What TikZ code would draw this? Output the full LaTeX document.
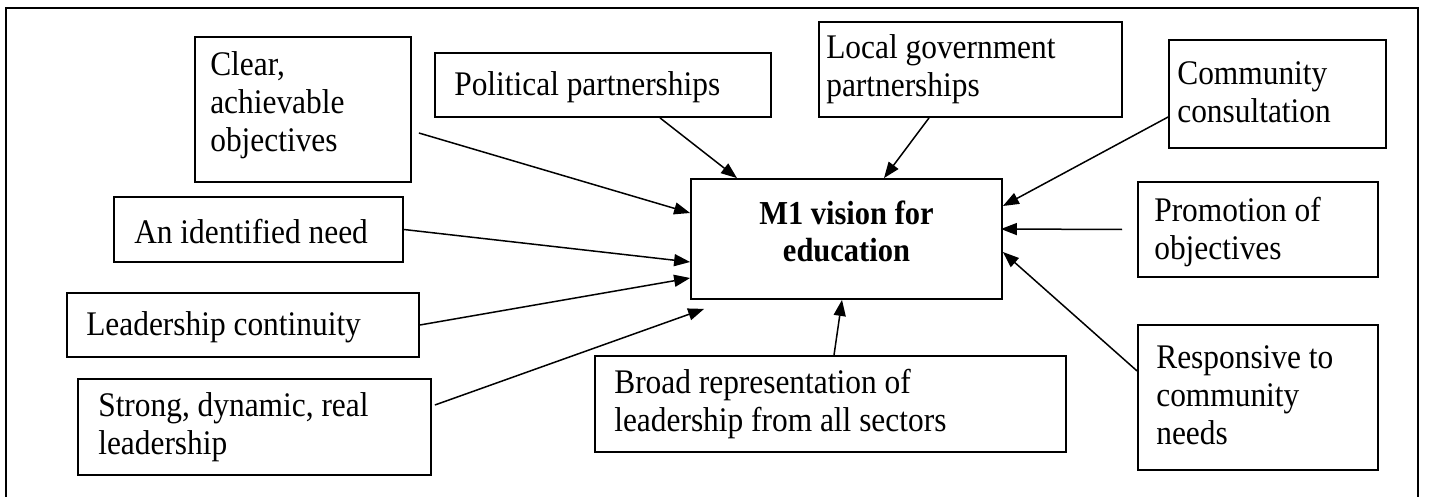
\documentclass[tikz,border=0pt]{standalone}
\usepackage{fontspec}
\setmainfont{Liberation Serif}[FakeStretch=0.91]
\usetikzlibrary{arrows.meta,calc}
\tikzset{
  box/.style={draw, line width=1.8pt, rectangle, inner sep=0pt},
  lbl/.style={inner sep=0pt, align=left, font=\fontsize{34.5}{38}\selectfont},
  arr/.style={line width=1.5pt, -{Triangle[length=16pt,width=12pt]}}
}
\begin{document}
\begin{tikzpicture}[x=1pt,y=-1pt]
\useasboundingbox (0,0) rectangle (1431,497);
\draw[line width=2pt] (6,520) -- (6,8) -- (1418,8) -- (1418,520);

\node[box, minimum width=216pt, minimum height=145pt] (clear) at (303,109.5) {};
\node[box, minimum width=336pt, minimum height=64pt] (political) at (603,85) {};
\node[box, minimum width=303pt, minimum height=95pt] (localgov) at (970.5,69.5) {};
\node[box, minimum width=217pt, minimum height=108pt] (community) at (1277.5,94) {};
\node[box, minimum width=240pt, minimum height=95pt] (promotion) at (1258,229.5) {};
\node[box, minimum width=240pt, minimum height=145pt] (responsive) at (1258,397.5) {};
\node[box, minimum width=471pt, minimum height=96pt] (broad) at (830.5,404) {};
\node[box, minimum width=353pt, minimum height=96pt] (strong) at (254.5,427) {};
\node[box, minimum width=352pt, minimum height=64pt] (leadership) at (243,325) {};
\node[box, minimum width=289pt, minimum height=65pt] (need) at (258.5,229.5) {};
\node[box, minimum width=311pt, minimum height=120pt] (vision) at (846.5,239) {};

\node[lbl, anchor=west] (clearT) at ($(clear.west)+(16,-4)$) {Clear,\\achievable\\objectives};
\node[lbl, anchor=west] (politicalT) at ($(political.west)+(20,2)$) {Political partnerships};
\node[lbl, anchor=west] (localgovT) at ($(localgov.west)+(8,0)$) {Local government\\partnerships};
\node[lbl, anchor=west] (communityT) at ($(community.west)+(9,-2)$) {Community\\consultation};
\node[lbl, anchor=west] (promotionT) at ($(promotion.west)+(17,3)$) {Promotion of\\objectives};
\node[lbl, anchor=west] (responsiveT) at ($(responsive.west)+(19,-2)$) {Responsive to\\community\\needs};
\node[lbl, anchor=west] (broadT) at ($(broad.west)+(20,0)$) {Broad representation of\\leadership from all sectors};
\node[lbl, anchor=west] (strongT) at ($(strong.west)+(21,0)$) {Strong, dynamic, real\\leadership};
\node[lbl, anchor=west] (leadershipT) at ($(leadership.west)+(20,2)$) {Leadership continuity};
\node[lbl, anchor=west] (needT) at ($(need.west)+(21,2)$) {An identified need};
\node[lbl, align=center, font=\fontsize{33.5}{37}\selectfont\bfseries] (visionT) at ($(vision.center)+(0,-8)$) {M1 vision for\\education};

\draw[arr] ($(clear.east)+(7,23.5)$) -- ($(vision.west)+(0,-26)$);
\draw[arr] ($(political.south)+(57,0)$) -- ($(vision.north)+(-109.5,0)$);
\draw[arr] (need.east) -- ($(vision.west)+(0,23)$);
\draw[arr] (leadership.east) -- ($(vision.west)+(0,39)$);
\draw[arr] ($(strong.east)+(3,-22)$) -- ($(vision.south west)+(14,9)$);
\draw[arr] ($(broad.north)+(3.5,0)$) -- ($(vision.south)+(-4.5,0)$);
\draw[arr] ($(localgov.south)+(-41.5,0)$) -- ($(vision.north)+(37.5,0)$);
\draw[arr] ($(community.west)+(0,23)$) -- ($(vision.east)+(0,-33)$);
\draw[arr] ($(promotion.west)+(-15,0)$) -- ($(vision.east)+(-2,-10)$);
\draw[arr] ($(responsive.west)+(0,-26.5)$) -- ($(vision.east)+(0,13)$);
\end{tikzpicture}
\end{document}
